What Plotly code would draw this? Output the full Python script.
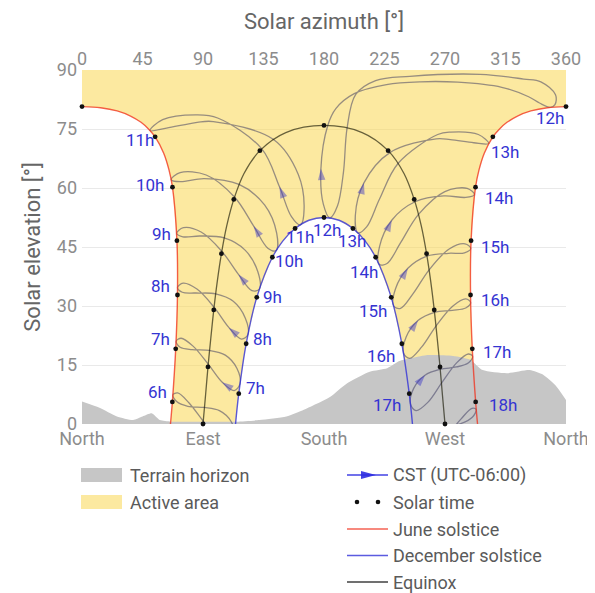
import plotly.graph_objects as go

# ---------------- axes ----------------
top_ticks = [0, 45, 90, 135, 180, 225, 270, 315, 360]
compass_vals = [0, 90, 180, 270, 360]
compass_text = ["North", "East", "South", "West", "North"]
elev_ticks = [0, 15, 30, 45, 60, 75, 90]

# ---------------- terrain horizon ----------------
terrain_az = [0, 13, 26, 38, 45, 52, 58, 66, 80, 100, 115, 132, 152, 165, 175, 185, 197, 214, 227, 236, 244, 256, 276, 289, 298, 316, 333, 343, 353, 360]
terrain_el = [5.7, 4.1, 1.9, 1.0, 1.9, 2.7, 1.0, 0.6, 0.6, 0.6, 0.6, 1.0, 1.9, 3.6, 5.2, 7.0, 10.3, 13.3, 14.2, 16.0, 16.7, 17.5, 17.3, 16.3, 13.7, 12.9, 13.7, 12.5, 9.5, 6.1]

# ---------------- solstice / equinox paths ----------------
june_am_az = [0, 13.8, 26.1, 36.1, 43.9, 49.8, 54.4, 60.7, 64.7, 67.3, 70.6, 71.0, 69.7, 67.2, 65.8]
june_am_el = [80.7, 80.4, 79.6, 78.3, 76.7, 74.9, 73.0, 68.9, 64.6, 60.2, 46.6, 32.8, 19.1, 5.6, 0]
june_pm_az = [294.2, 292.8, 290.3, 289.0, 289.4, 292.7, 295.3, 299.3, 305.6, 310.2, 316.1, 323.9, 333.9, 346.2, 360]
june_pm_el = [0, 5.6, 19.1, 32.8, 46.6, 60.2, 64.6, 68.9, 73.0, 74.9, 76.7, 78.3, 79.6, 80.4, 80.7]
dec_az = [114.2, 116.6, 122.1, 130.0, 141.6, 149.3, 158.5, 168.8, 180, 191.2, 201.5, 210.7, 218.4, 230.0, 237.9, 243.4, 245.8]
dec_el = [0, 7.7, 20.4, 32.2, 42.4, 46.5, 49.7, 51.8, 52.5, 51.8, 49.7, 46.5, 42.4, 32.2, 20.4, 7.7, 0]
eq_az = [90, 91.9, 93.7, 95.8, 98.0, 100.6, 103.7, 107.6, 112.9, 120.5, 132.3, 151.6, 180, 208.4, 227.7, 239.5, 247.1, 252.4, 256.3, 259.4, 262.0, 264.2, 266.3, 268.1, 270]
eq_el = [0, 7.3, 14.5, 21.8, 29.0, 36.2, 43.3, 50.3, 57.1, 63.7, 69.5, 74.1, 75.9, 74.1, 69.5, 63.7, 57.1, 50.3, 43.3, 36.2, 29.0, 21.8, 14.5, 7.3, 0]

# ---------------- solar time dots ----------------
june_dot_az = [67.2, 69.7, 71.0, 70.6, 67.3, 54.4, 0, 360, 305.6, 292.7, 289.4, 289.0, 290.3, 292.8]
june_dot_el = [5.6, 19.1, 32.8, 46.6, 60.2, 73.0, 80.7, 80.7, 73.0, 60.2, 46.6, 32.8, 19.1, 5.6]
june_dot_lbl = ["6h", "7h", "8h", "9h", "10h", "11h", "", "12h", "13h", "14h", "15h", "16h", "17h", "18h"]
dec_dot_az = [116.6, 122.1, 130.0, 141.6, 158.5, 180, 201.5, 218.4, 230.0, 237.9, 243.4]
dec_dot_el = [7.7, 20.4, 32.2, 42.4, 49.7, 52.5, 49.7, 42.4, 32.2, 20.4, 7.7]
dec_dot_lbl = ["7h", "8h", "9h", "10h", "11h", "12h", "13h", "14h", "15h", "16h", "17h"]
eq_dot_az = [90, 93.7, 98.0, 103.7, 112.9, 132.3, 180, 227.7, 247.1, 256.3, 262.0, 266.3, 270]
eq_dot_el = [0, 14.5, 29.0, 43.3, 57.1, 69.5, 75.9, 69.5, 57.1, 43.3, 29.0, 14.5, 0]

# ---------------- CST analemmas (Dec -> Jun -> Dec) ----------------
ana06_az = [113.4, 109.4, 100.4, 90.2, 79.5, 71.2, 67.6, 70.4, 78.7, 91.0, 102.2, 110.8, 113.4]
ana06_el = [-3.0, -5.1, -3.6, 0.7, 5.4, 7.9, 7.4, 5.7, 4.5, 4.2, 3.4, 0.7, -3.0]
ana07_az = [117.5, 113.2, 104.3, 93.9, 82.6, 73.7, 70.0, 73.0, 81.9, 94.9, 106.6, 115.3, 117.5]
ana07_el = [10.2, 8.5, 10.6, 15.2, 19.8, 21.8, 21.0, 19.5, 18.9, 18.7, 17.5, 14.1, 10.2]
ana08_az = [123.4, 118.6, 109.3, 98.2, 85.5, 75.2, 71.0, 74.6, 84.8, 99.4, 112.5, 121.5, 123.4]
ana08_el = [22.7, 21.6, 24.5, 29.7, 34.3, 35.8, 34.7, 33.5, 33.3, 33.1, 31.2, 26.9, 22.7]
ana09_az = [131.9, 126.4, 116.5, 104.0, 88.6, 75.4, 70.4, 75.0, 87.6, 105.8, 121.3, 130.8, 131.9]
ana09_el = [34.3, 33.9, 38.0, 43.9, 48.8, 49.9, 48.5, 47.6, 47.8, 47.3, 44.2, 38.7, 34.3]
ana10_az = [144.4, 138.2, 127.7, 113.4, 92.4, 73.0, 66.3, 73.1, 91.0, 116.8, 135.8, 144.8, 144.4]
ana10_el = [44.1, 44.7, 50.3, 57.7, 63.3, 63.9, 62.1, 61.6, 62.4, 60.9, 55.7, 48.5, 44.1]
ana11_az = [162.4, 155.8, 146.9, 133.6, 100.9, 85.9, 60.0, 50.6, 62.9, 85.7, 97.7, 142.2, 160.8, 165.2, 162.4]
ana11_el = [50.6, 52.7, 60.3, 70.0, 77.8, 78.6, 77.4, 74.6, 75.2, 76.7, 76.9, 72.4, 63.5, 54.8, 50.6]
ana12_az = [184.4, 179.5, 177.7, 182.8, 188.8, 202.5, 226.5, 251.5, 279.5, 312.2, 332.2, 340.3, 348.3, 351.8, 352.2, 341.3, 328.6, 296.1, 243.8, 218.4, 203.6, 197.2, 194.5, 190.0, 184.4]
ana12_el = [52.4, 55.9, 64.9, 75.9, 80.2, 84.0, 86.3, 87.0, 86.9, 85.6, 83.2, 81.6, 80.5, 81.2, 83.7, 87.0, 87.7, 88.9, 88.4, 87.3, 83.8, 75.3, 64.1, 55.4, 52.4]
ana13_az = [205.2, 203.3, 209.7, 229.0, 263.5, 274.0, 291.4, 302.5, 294.8, 274.2, 264.6, 235.2, 221.3, 211.7, 205.2]
ana13_el = [48.6, 53.0, 61.3, 69.0, 72.5, 72.3, 71.5, 71.3, 73.6, 74.2, 73.6, 66.3, 57.2, 50.1, 48.6]
ana14_az = [221.0, 221.3, 230.4, 247.7, 269.2, 285.4, 291.9, 286.5, 269.9, 250.3, 237.0, 226.9, 221.0]
ana14_el = [40.6, 45.1, 51.8, 56.5, 58.0, 57.6, 58.3, 59.9, 59.1, 53.3, 46.1, 40.8, 40.6]
ana15_az = [231.8, 233.2, 242.4, 256.6, 272.6, 284.5, 289.2, 284.9, 273.1, 258.2, 246.4, 236.9, 231.8]
ana15_el = [30.0, 34.4, 39.6, 42.7, 43.4, 43.5, 44.6, 45.8, 44.5, 39.2, 33.2, 29.4, 30.0]
ana16_az = [239.2, 241.1, 249.9, 262.2, 275.5, 285.4, 289.1, 285.5, 275.9, 263.3, 252.7, 243.7, 239.2]
ana16_el = [18.0, 22.1, 26.3, 28.4, 28.9, 29.5, 30.9, 31.8, 30.0, 24.9, 19.6, 16.7, 18.0]
ana17_az = [244.3, 246.6, 255.1, 266.4, 278.5, 287.3, 290.6, 287.3, 278.8, 267.4, 257.2, 248.4, 244.3]
ana17_el = [5.1, 9.0, 12.4, 13.9, 14.5, 15.5, 17.2, 17.8, 15.6, 10.4, 5.5, 3.4, 5.1]
ana18_az = [247.8, 250.5, 259.1, 269.8, 281.8, 290.3, 293.2, 290.0, 282.0, 269.0, 260.8, 251.8, 247.8]
ana18_el = [-8.2, -4.5, -1.7, -0.7, 0.1, 1.7, 3.7, 4.0, 1.3, -4.2, -8.8, -10.3, -8.2]

analemmas = [
    (ana06_az, ana06_el, False), (ana07_az, ana07_el, True), (ana08_az, ana08_el, True),
    (ana09_az, ana09_el, True), (ana10_az, ana10_el, True), (ana11_az, ana11_el, True),
    (ana12_az, ana12_el, True), (ana13_az, ana13_el, True), (ana14_az, ana14_el, True),
    (ana15_az, ana15_el, True), (ana16_az, ana16_el, True), (ana17_az, ana17_el, True),
    (ana18_az, ana18_el, False),
]

# ---------------- styles ----------------
FONT = "Roboto"
YELLOW = "rgba(249,214,80,0.54)"
TERRAIN = "#c6c6c6"
ANA = "rgba(60,58,95,0.52)"
ARROW = "rgba(50,45,200,0.62)"
EQ = "rgba(20,20,0,0.64)"
JUNE = "rgba(240,45,25,0.75)"
DEC = "rgba(45,45,215,0.78)"
LBL = "#3434d2"

fig = go.Figure()

# active area (built from solstice paths)
act_x = [0] + june_am_az + dec_az + june_pm_az + [360]
act_y = [90] + june_am_el + dec_el + june_pm_el + [90]
fig.add_trace(go.Scatter(x=act_x, y=act_y, fill="toself", fillcolor=YELLOW, mode="lines",
                         line=dict(width=0), hoverinfo="skip", showlegend=False))
# terrain
fig.add_trace(go.Scatter(x=terrain_az, y=terrain_el, fill="tozeroy", fillcolor=TERRAIN, mode="lines",
                         line=dict(width=0, shape="spline", smoothing=0.6), hoverinfo="skip", showlegend=False))

# analemmas
for az, el, _ in analemmas:
    fig.add_trace(go.Scatter(x=az, y=el, mode="lines", line=dict(color=ANA, width=1.3, shape="spline"),
                             hoverinfo="skip", showlegend=False))

# equinox and solstices
fig.add_trace(go.Scatter(x=eq_az, y=eq_el, mode="lines", line=dict(color=EQ, width=1.3, shape="spline"),
                         hoverinfo="skip", showlegend=False))
fig.add_trace(go.Scatter(x=dec_az, y=dec_el, mode="lines", line=dict(color=DEC, width=1.4, shape="spline"),
                         hoverinfo="skip", showlegend=False))
for xs, ys in [(june_am_az, june_am_el), (june_pm_az, june_pm_el)]:
    fig.add_trace(go.Scatter(x=xs, y=ys, mode="lines", line=dict(color=JUNE, width=1.4, shape="spline"),
                             hoverinfo="skip", showlegend=False))

# direction arrows (at the Feb point of each analemma)
for az, el, show in analemmas:
    if not show:
        continue
    fig.add_trace(go.Scatter(x=az[1:3], y=el[1:3], mode="markers",
                             marker=dict(symbol="arrow", size=[0, 12], color=ARROW, angleref="previous",
                                         line=dict(width=0)),
                             hoverinfo="skip", showlegend=False))

# solar time dots
for xs, ys in [(june_dot_az, june_dot_el), (dec_dot_az, dec_dot_el), (eq_dot_az, eq_dot_el)]:
    fig.add_trace(go.Scatter(x=xs, y=ys, mode="markers", marker=dict(color="#111", size=4.8),
                             cliponaxis=False, hoverinfo="skip", showlegend=False))

# invisible trace to activate the top axis
fig.add_trace(go.Scatter(x=[top_ticks[0], top_ticks[-1]], y=[elev_ticks[0], elev_ticks[0]], xaxis="x2",
                         mode="markers", marker=dict(opacity=0), hoverinfo="skip", showlegend=False))

# hour labels
june_lbl_style = [("right", -3, 10), ("right", -4, 10), ("right", -5, 9), ("right", -4, 7), ("right", -6, 2),
                  ("right", 1, -3), None, ("right", 0, -11), ("left", -4, -15), ("left", 7, -11),
                  ("left", 8, -6), ("left", 8, -5), ("left", 9, -3), ("left", 11, -3)]
dec_lbl_style = [("left", 5, 6), ("left", 5, 5), ("left", 4, 0), ("left", 1, -4), ("center", 5, -8),
                 ("center", 3, -12), ("center", -1, -12), ("right", 4, -15), ("right", -2, -14),
                 ("right", -5, -12), ("right", -6, -11)]
annotations = []
for xs, ys, lbls, styles in [(june_dot_az, june_dot_el, june_dot_lbl, june_lbl_style),
                             (dec_dot_az, dec_dot_el, dec_dot_lbl, dec_lbl_style)]:
    for x, y, t, s in zip(xs, ys, lbls, styles):
        if s is None or not t:
            continue
        annotations.append(dict(x=x, y=y, xref="x", yref="y", text=t, showarrow=False,
                                xanchor=s[0], yanchor="middle", xshift=s[1], yshift=s[2],
                                font=dict(family=FONT, size=17, color=LBL)))

# ---------------- layout geometry ----------------
# The page body adds an 8 px offset, so the figure is 8 px smaller and the
# plot area sits at page pixels (82..566, 70..424).
OFF = 8
FIG_W, FIG_H = 595 - OFF, 593 - OFF
PL, PR, PT, PB = 82, 566, 70, 424   # page-pixel plot box


def px(xp):
    return (xp - PL) / (PR - PL)


def py(yp):
    return (PB - yp) / (PB - PT)


TICKF = dict(family=FONT, size=18, color="#8c8c8c")
TITLEF = dict(family=FONT, size=22, color="#666666")

# top axis title
annotations.append(dict(x=0.5, y=py(22), xref="paper", yref="paper", text="Solar azimuth [°]",
                        showarrow=False, xanchor="center", yanchor="middle", font=TITLEF))

shapes = []
LEG_FONT = dict(family=FONT, size=18, color="#5a5a5a")
# left column
shapes.append(dict(type="rect", xref="paper", yref="paper", x0=px(81), x1=px(122), y0=py(482), y1=py(468),
                   fillcolor=TERRAIN, line=dict(width=0)))
shapes.append(dict(type="rect", xref="paper", yref="paper", x0=px(81), x1=px(122), y0=py(509), y1=py(495),
                   fillcolor=YELLOW, line=dict(width=0)))
for text, yy in [("Terrain horizon", 475), ("Active area", 502)]:
    annotations.append(dict(x=px(128), y=py(yy), xref="paper", yref="paper", text=text, showarrow=False,
                            xanchor="left", yanchor="middle", font=LEG_FONT))
# right column
shapes.append(dict(type="line", xref="paper", yref="paper", x0=px(347), x1=px(388), y0=py(475), y1=py(475),
                   line=dict(color="rgba(45,45,225,0.9)", width=1.4)))
shapes.append(dict(type="path", xref="paper", yref="paper",
                   path="M {a},{b} L {c},{d} L {e},{f} Z".format(a=px(361), b=py(471), c=px(376), d=py(475),
                                                                 e=px(361), f=py(479)),
                   fillcolor="rgba(45,45,225,0.9)", line=dict(width=0)))
for cx in [357, 378]:
    shapes.append(dict(type="circle", xref="paper", yref="paper", x0=px(cx - 2.3), x1=px(cx + 2.3),
                       y0=py(502 + 2.3), y1=py(502 - 2.3), fillcolor="#111", line=dict(width=0)))
shapes.append(dict(type="line", xref="paper", yref="paper", x0=px(347), x1=px(388), y0=py(529), y1=py(529),
                   line=dict(color=JUNE, width=1.4)))
shapes.append(dict(type="line", xref="paper", yref="paper", x0=px(347), x1=px(388), y0=py(555.5), y1=py(555.5),
                   line=dict(color=DEC, width=1.4)))
shapes.append(dict(type="line", xref="paper", yref="paper", x0=px(347), x1=px(388), y0=py(582), y1=py(582),
                   line=dict(color="rgba(0,0,0,0.75)", width=1.4)))
for text, yy in [("CST (UTC-06:00)", 475), ("Solar time", 502), ("June solstice", 529),
                 ("December solstice", 555.5), ("Equinox", 582)]:
    annotations.append(dict(x=px(391), y=py(yy), xref="paper", yref="paper", text=text, showarrow=False,
                            xanchor="left", yanchor="middle", font=LEG_FONT))

fig.update_layout(
    width=FIG_W, height=FIG_H,
    margin=dict(l=PL - OFF, r=FIG_W - (PR - OFF), t=PT - OFF, b=FIG_H - (PB - OFF), autoexpand=False),
    paper_bgcolor="white", plot_bgcolor="white",
    font=dict(family=FONT),
    showlegend=False,
    xaxis=dict(range=[0, 360], tickvals=compass_vals, ticktext=compass_text, showgrid=False, zeroline=False,
               showline=False, ticks="", tickfont=TICKF, ticklabelstandoff=2, fixedrange=True, automargin=False),
    xaxis2=dict(range=[0, 360], overlaying="x", side="top", tickvals=top_ticks, showgrid=False, zeroline=False,
                showline=False, ticks="", tickfont=TICKF, ticklabelstandoff=0, automargin=False,
                fixedrange=True),
    yaxis=dict(range=[0, 90], tickvals=elev_ticks, showgrid=True, gridcolor="#e9e9e9", gridwidth=1,
               zeroline=False, showline=False, ticks="", tickfont=TICKF, ticklabelstandoff=4, automargin=False,
               title=dict(text="Solar elevation [°]", font=TITLEF, standoff=10), fixedrange=True),
    shapes=shapes,
    annotations=annotations,
)

fig.write_html("out.html")
